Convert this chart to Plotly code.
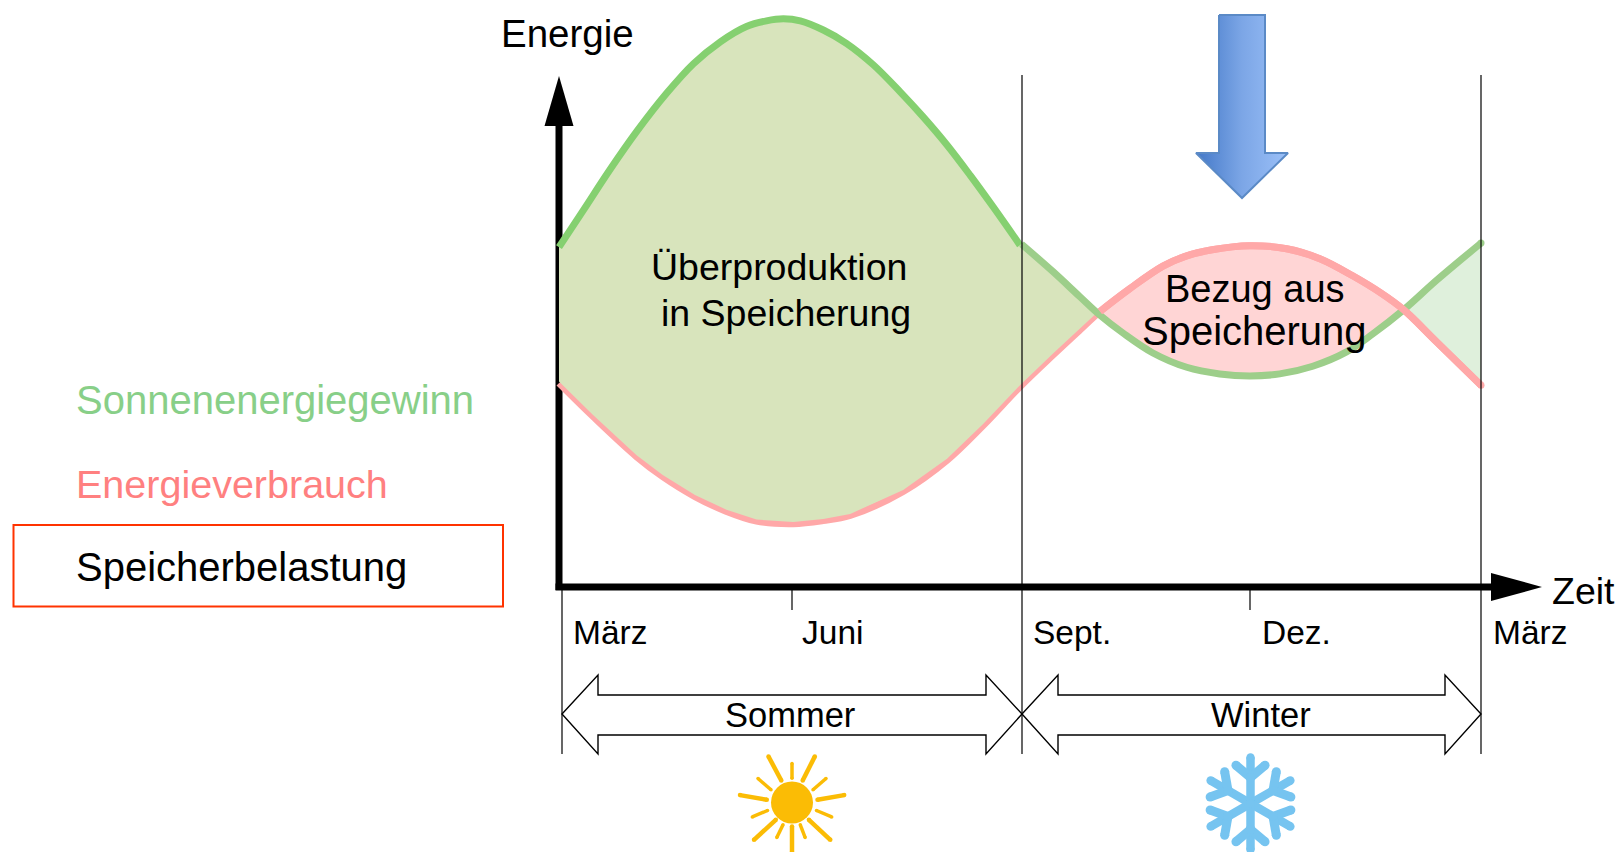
import math
import plotly.graph_objects as go

# ---- data (months since March, energy in arbitrary units) ----
solar_summer_month = [0, .32, .66, 1.01, 1.40, 1.75, 2.10, 2.44, 2.70, 2.92, 3.14, 3.44, 3.74, 4.09, 4.44, 4.74, 5.05, 5.35, 5.65, 6.0]
solar_summer_energy = [66.5, 73.8, 81.6, 89.1, 96.6, 102.4, 106.7, 109.7, 110.8, 111.2, 110.8, 109.0, 106.4, 102.2, 96.9, 92.0, 86.5, 80.6, 74.4, 66.9]
solar_winter_month = [6.02, 6.43, 6.78, 7.04, 7.34, 7.73, 8.17, 8.60, 8.99, 9.38, 9.81, 10.25, 10.59, 10.99, 11.42, 12.0]
solar_winter_energy = [67.1, 61.7, 56.8, 53.2, 49.7, 45.8, 43.0, 41.7, 41.3, 41.7, 43.2, 46.0, 49.5, 54.2, 60.0, 67.3]
demand_month = [0, .44, 1.01, 1.35, 1.77, 2.18, 2.57, 3.05, 3.44, 3.79, 4.48, 5.05, 5.52, 6.0, 6.43, 6.78, 7.04, 7.43, 7.86, 8.15, 8.5, 8.99, 9.47, 9.91, 10.33, 10.69, 10.99, 11.42, 12.0]
demand_energy = [39.9, 33.4, 25.5, 21.6, 17.7, 14.8, 12.9, 12.4, 13.0, 14.0, 18.7, 24.8, 31.6, 39.2, 45.4, 50.3, 53.9, 58.4, 62.8, 64.7, 66.0, 66.8, 66.2, 64.2, 60.9, 57.6, 54.3, 48.0, 39.5]
cross_months = [7.04, 10.99]
month_labels = ["März", "Juni", "Sept.", "Dez.", "März"]
legend_labels = ["Sonnenenergiegewinn", "Energieverbrauch", "Speicherbelastung"]

# ---- page geometry ----
W, H = 1623, 852
X0, XM = 559, (1481 - 559) / 12
Y0, YU = 587, 5.11

GREEN1, GREEN2, RED = "#85D070", "#9DCE8A", "#FFA8A8"
FONT = "Liberation Sans"

fig = go.Figure()

solar_m = solar_summer_month + solar_winter_month
solar_e = solar_summer_energy + solar_winter_energy


def band(lo, hi, color, lift=0):
    gm = [m for m in solar_m if lo <= m <= hi]
    ge = [e for m, e in zip(solar_m, solar_e) if lo <= m <= hi]
    dm = [m for m in demand_month if lo <= m <= hi]
    de = [e + lift for m, e in zip(demand_month, demand_energy) if lo <= m <= hi]
    fig.add_trace(go.Scatter(x=gm + dm[::-1], y=ge + de[::-1], mode="lines", fill="toself",
                             fillcolor=color, line=dict(width=0), hoverinfo="skip"))


band(cross_months[0], cross_months[1], "#FFD5D5")
band(cross_months[1], 12, "#DFF0DC")
fig.add_trace(go.Scatter(x=demand_month, y=demand_energy, mode="lines",
                         line=dict(color=RED, width=7, shape="spline"), name="Energieverbrauch"))
band(0, cross_months[0], "#D8E4BC", lift=0.3)
fig.add_trace(go.Scatter(x=solar_winter_month, y=solar_winter_energy, mode="lines",
                         line=dict(color=GREEN2, width=7, shape="spline"), name="Sonnenenergiegewinn"))
fig.add_trace(go.Scatter(x=solar_summer_month, y=solar_summer_energy, mode="lines",
                         line=dict(color=GREEN1, width=7, shape="spline"), name="Sonnenenergiegewinn"))
fig.add_trace(go.Scatter(x=[demand_month[-1], solar_winter_month[-1]], y=[demand_energy[-1], solar_winter_energy[-1]],
                         mode="markers", marker=dict(color=[RED, GREEN2], size=7, line=dict(width=0)),
                         hoverinfo="skip"))
# red line stays on top around the winter crossings
fig.add_trace(go.Scatter(x=[m for m in demand_month if m >= cross_months[0]],
                         y=[e for m, e in zip(demand_month, demand_energy) if m >= cross_months[0]],
                         mode="lines", line=dict(color=RED, width=7, shape="spline"), hoverinfo="skip"))


def deco(xs, ys, color, width, caps=True):
    fig.add_trace(go.Scatter(x=xs, y=ys, xaxis="x2", yaxis="y2", mode="lines+markers" if caps else "lines",
                             line=dict(color=color, width=width),
                             marker=dict(color=color, size=width, line=dict(width=0)),
                             hoverinfo="skip"))


# blue arrow with horizontal gradient
arrow_x = [1219, 1265, 1265, 1288, 1242, 1196, 1219, 1219]
arrow_y = [15, 15, 153, 153, 198, 153, 153, 15]
fig.add_trace(go.Scatter(x=arrow_x, y=arrow_y, xaxis="x2", yaxis="y2", mode="lines", fill="toself",
                         line=dict(color="#5B8AC6", width=2),
                         fillgradient=dict(type="horizontal",
                                           colorscale=[[0, "#4378C8"], [0.5, "#7CA6E6"], [1, "#9BC0F8"]]),
                         hoverinfo="skip"))

# sun
sx, sy, sr = 792, 802.5, 21
fig.add_shape(type="circle", xref="x2", yref="y2", x0=sx - sr, x1=sx + sr, y0=sy - sr, y1=sy + sr,
              fillcolor="#FBBC05", line=dict(width=0), layer="above")
long_rays = [(-23.5, -46, -10.7, -22), (22.8, -46, 10.7, -22), (-52, -7.4, -25.2, -2.7), (52.2, -7.4, 25.5, -2.7),
             (-38, 37.3, -16.2, 17.3), (38.3, 37.3, 16.9, 17.3), (0, 24, 0, 50)]
short_rays = [(0, -39, 0, -24.3), (-34, -24, -21, -12.7), (34, -24, 21, -12.7), (-39.7, 14.4, -24.5, 8),
              (39.7, 14.4, 24.5, 8), (-15.2, 35, -9, 22.3), (13.1, 35, 8.3, 22.3)]
for rays, w in ((long_rays, 4.5), (short_rays, 3.5)):
    xs, ys = [], []
    for a, b, c, d in rays:
        xs += [sx + a, sx + c, None]
        ys += [sy + b, sy + d, None]
    deco(xs, ys, "#FBBC05", w)

# snowflake
fx, fy = 1250.5, 803.5
xs, ys, bx, by = [], [], [], []
for k in range(6):
    t = math.radians(60 * k)
    ux, uy = math.sin(t), -math.cos(t)
    xs += [fx, fx + 46 * ux, None]
    ys += [fy, fy + 46 * uy, None]
    for s in (-1, 1):
        a = t + s * math.radians(50)
        bx += [fx + 26 * ux, fx + 26 * ux + 19 * math.sin(a), None]
        by += [fy + 26 * uy, fy + 26 * uy - 19 * math.cos(a), None]
deco(xs, ys, "#76C4F0", 8.5)
deco(bx, by, "#76C4F0", 9)


def line(x0, y0, x1, y1, w=1.2, color="black", layer="above"):
    fig.add_shape(type="line", xref="x2", yref="y2", x0=x0, y0=y0, x1=x1, y1=y1,
                  line=dict(color=color, width=w), layer=layer)


def path(d, fill, w=0, color="black", layer="above"):
    fig.add_shape(type="path", xref="x2", yref="y2", path=d, fillcolor=fill,
                  line=dict(color=color, width=w), layer=layer)


# axes and guide lines
line(559, 120, 559, 590, 7, layer="below")
path("M 559 76 L 544.5 126 L 573.5 126 Z", "black", layer="below")
line(1022, 75, 1022, 754)
line(1481, 75, 1481, 754)
line(562, 587, 562, 754)
line(555.5, 587, 1495, 587, 7)
path("M 1542 587 L 1491 573 L 1491 601 Z", "black")
line(792, 590, 792, 610)
line(1250, 590, 1250, 610)


def double_arrow(a, b):
    h = 36
    return (f"M {a} 714 L {a + h} 675 L {a + h} 695 L {b - h} 695 L {b - h} 675 L {b} 714 "
            f"L {b - h} 754 L {b - h} 735 L {a + h} 735 L {a + h} 754 Z")


path(double_arrow(562, 1022), "rgba(255,255,255,0)", 1.4)
path(double_arrow(1022, 1481), "rgba(255,255,255,0)", 1.4)

# legend frame
fig.add_shape(type="rect", xref="x2", yref="y2", x0=13.5, y0=525, x1=503, y1=606.5,
              line=dict(color="#FF3300", width=2), layer="above")


def text(s, x, y, size, anchor="left", color="black"):
    fig.add_annotation(text=s, x=x, y=y, xref="x2", yref="y2", xanchor=anchor, yanchor="middle",
                       showarrow=False, font=dict(family=FONT, size=size, color=color), borderpad=0)


text("Energie", 499.5, 33, 38.5)
text("Zeit", 1551, 591, 37.5)
text("Überproduktion", 779, 267, 37.5, "center")
text("in Speicherung", 785.5, 312.5, 37.5, "center")
text("Bezug aus", 1255, 289, 38, "center")
text("Speicherung", 1254.5, 331, 40, "center")
for s, y, c, z in zip(legend_labels, [399.5, 484, 567], ["#88CF88", "#FF8080", "black"], [40, 39.5, 40]):
    text(s, 74.5, y, z, color=c)
for s, x in zip(month_labels, [571.5, 801, 1031.5, 1261, 1491.5]):
    text(s, x, 632, 33.5)
text("Sommer", 790, 714.5, 34.5, "center")
text("Winter", 1261, 714.5, 34.5, "center")

fig.update_layout(
    width=W, height=H, autosize=False, margin=dict(l=0, r=0, t=0, b=0),
    paper_bgcolor="white", plot_bgcolor="white", showlegend=False,
    xaxis=dict(visible=False, domain=[0, 1], range=[-X0 / XM, (W - X0) / XM]),
    yaxis=dict(visible=False, domain=[0, 1], range=[(Y0 - H) / YU, Y0 / YU]),
    xaxis2=dict(visible=False, domain=[0, 1], range=[0, W], overlaying="x", anchor="y2"),
    yaxis2=dict(visible=False, domain=[0, 1], range=[H, 0], overlaying="y", anchor="x2"),
)
fig.write_html("out.html", config={"displayModeBar": False},
               post_script="document.body.style.margin='0';document.body.style.overflow='hidden';")
